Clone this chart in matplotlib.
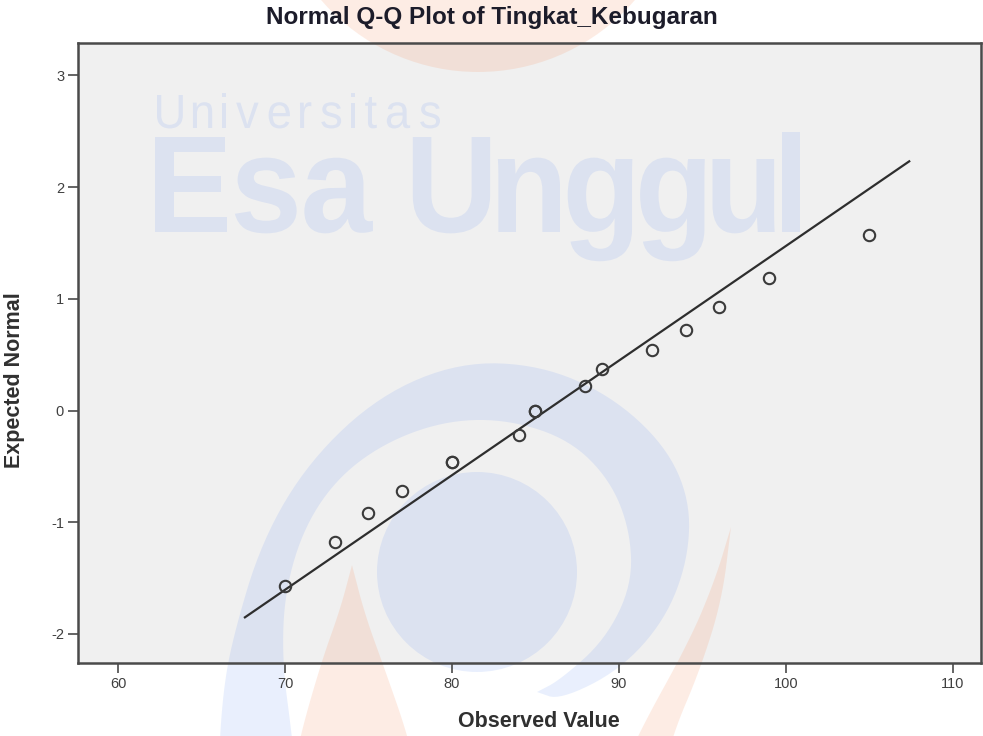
import numpy as np
import matplotlib
matplotlib.use("Agg")
import matplotlib.pyplot as plt
from matplotlib.patches import Circle, Polygon, PathPatch
from matplotlib.textpath import TextPath
from matplotlib.font_manager import FontProperties
from matplotlib.transforms import Affine2D

# ---------------- data ----------------
observed = [70, 73, 75, 77, 80, 80, 84, 85, 85, 88, 89, 92, 94, 96, 99, 105]
expected = [-1.57, -1.18, -0.92, -0.72, -0.46, -0.46, -0.22, 0.0, 0.0,
            0.22, 0.37, 0.54, 0.72, 0.93, 1.19, 1.57]
line_x = [67.6, 107.4]
mean_val = 85.65
sd_val = 9.75

x_ticks = [60, 70, 80, 90, 100, 110]
y_ticks = [-2, -1, 0, 1, 2, 3]

plt.rcParams['font.family'] = ['Liberation Sans', 'DejaVu Sans']
plt.rcParams['axes.unicode_minus'] = False

W, H = 983, 736
fig = plt.figure(figsize=(W / 100, H / 100), dpi=100)
fig.patch.set_facecolor('white')
ax = fig.add_axes([78 / W, 1 - 663 / H, 903 / W, 620 / H])
ax.set_facecolor('#f0f0f0')

# ---------------- watermark (pixel coords, y down) ----------------
px = Affine2D().scale(1 / W, -1 / H).translate(0, 1) + fig.transFigure
blue = (0.30, 0.50, 0.95, 0.12)
orange = (0.97, 0.55, 0.35, 0.16)

swoosh_outer = [(218, 780), (222, 700), (232, 640), (262, 540), (310, 460), (380, 395),
                (460, 362), (540, 365), (610, 395), (665, 445), (690, 500), (688, 560),
                (665, 620), (620, 670), (560, 700), (537, 692)]
swoosh_inner = [(537, 692), (560, 680), (605, 640), (632, 585), (630, 530), (610, 480),
                (570, 440), (510, 420), (450, 420), (390, 440), (340, 475), (305, 525),
                (285, 590), (282, 660), (292, 736), (296, 780)]
orange_left = [(352, 565), (340, 610), (322, 660), (300, 736), (290, 790), (420, 790),
               (408, 736), (385, 670), (365, 615), (352, 565)]
orange_right = [(731, 527), (715, 580), (690, 640), (637, 736), (615, 790), (660, 790),
                (672, 736), (700, 670), (722, 600), (731, 527)]


def smooth(pts, n=3):
    # chaikin corner cutting, end points kept
    p = np.asarray(pts, float)
    for _ in range(n):
        q = [p[0]]
        for a, b in zip(p[:-1], p[1:]):
            q.append(0.75 * a + 0.25 * b)
            q.append(0.25 * a + 0.75 * b)
        q.append(p[-1])
        p = np.array(q)
    return p


shapes = [
    (Circle((478, -135), 207), orange),
    (Polygon(smooth(orange_left)), orange),
    (Polygon(smooth(orange_right)), orange),
    (Polygon(np.vstack([smooth(swoosh_outer), smooth(swoosh_inner)])), blue),
    (Circle((477, 572), 100), blue),
]
for p, c in shapes:
    p.set_facecolor(c)
    p.set_linewidth(0)
    p.set_transform(px)
    p.set_clip_on(False)
    p.set_zorder(1)
    ax.add_artist(p)


def text_patch(s, x0, baseline, cap_h, width, weight, tracking=0.0):
    fp = FontProperties(family='Liberation Sans', weight=weight)
    cap = TextPath((0, 0), "E", size=1, prop=fp).get_extents().height
    paths = []
    cx = 0.0
    for ch in s:
        if ch == " ":
            cx += 0.25
            continue
        tp = TextPath((0, 0), ch, size=1, prop=fp)
        ext = tp.get_extents()
        paths.append(tp.transformed(Affine2D().translate(cx - ext.x0, 0)))
        cx += ext.width + tracking
    cx -= tracking
    sy = cap_h / cap
    sx = width / cx
    for tp in paths:
        pp = PathPatch(tp, facecolor=blue, lw=0,
                       transform=Affine2D().scale(sx, -sy).translate(x0, baseline) + px)
        pp.set_clip_on(False)
        pp.set_zorder(1)
        ax.add_artist(pp)


text_patch("Universitas", 157, 128, 33, 283, 'normal', tracking=0.22)
text_patch("Esa Unggul", 155, 232, 95, 645, 'bold', tracking=0.06)

# ---------------- line + points ----------------
line_y = [(x - mean_val) / sd_val for x in line_x]
ax.plot(line_x, line_y, color='#2e2e2e', lw=1.6, zorder=3)
ax.plot(observed, expected, 'o', mfc='none', mec='#3a3a3a', mew=1.5, ms=8.2, zorder=4)

ax.set_xlim(57.6, 111.7)
ax.set_ylim(-2.26, 3.29)
ax.set_xticks(x_ticks)
ax.set_yticks(y_ticks)
for s in ax.spines.values():
    s.set_color('#4a4a4a')
    s.set_linewidth(1.8)
ax.tick_params(direction='out', length=7, width=1.2, color='#4a4a4a',
               labelsize=10.5, labelcolor='#404040', pad=3)

fig.text(0.5, 1 - 24 / H, "Normal Q-Q Plot of Tingkat_Kebugaran", fontsize=17.5,
         fontweight='bold', color='#1c1c2a', ha='center', va='baseline')
fig.text(539 / W, 9 / H, "Observed Value", fontsize=15.5, fontweight='bold',
         color='#303030', ha='center', va='baseline')
fig.text(15 / W, 1 - 380 / H, "Expected Normal", fontsize=15.5, fontweight='bold',
         color='#303030', ha='center', va='center', rotation=90)

fig.savefig("out.png", dpi=100)
